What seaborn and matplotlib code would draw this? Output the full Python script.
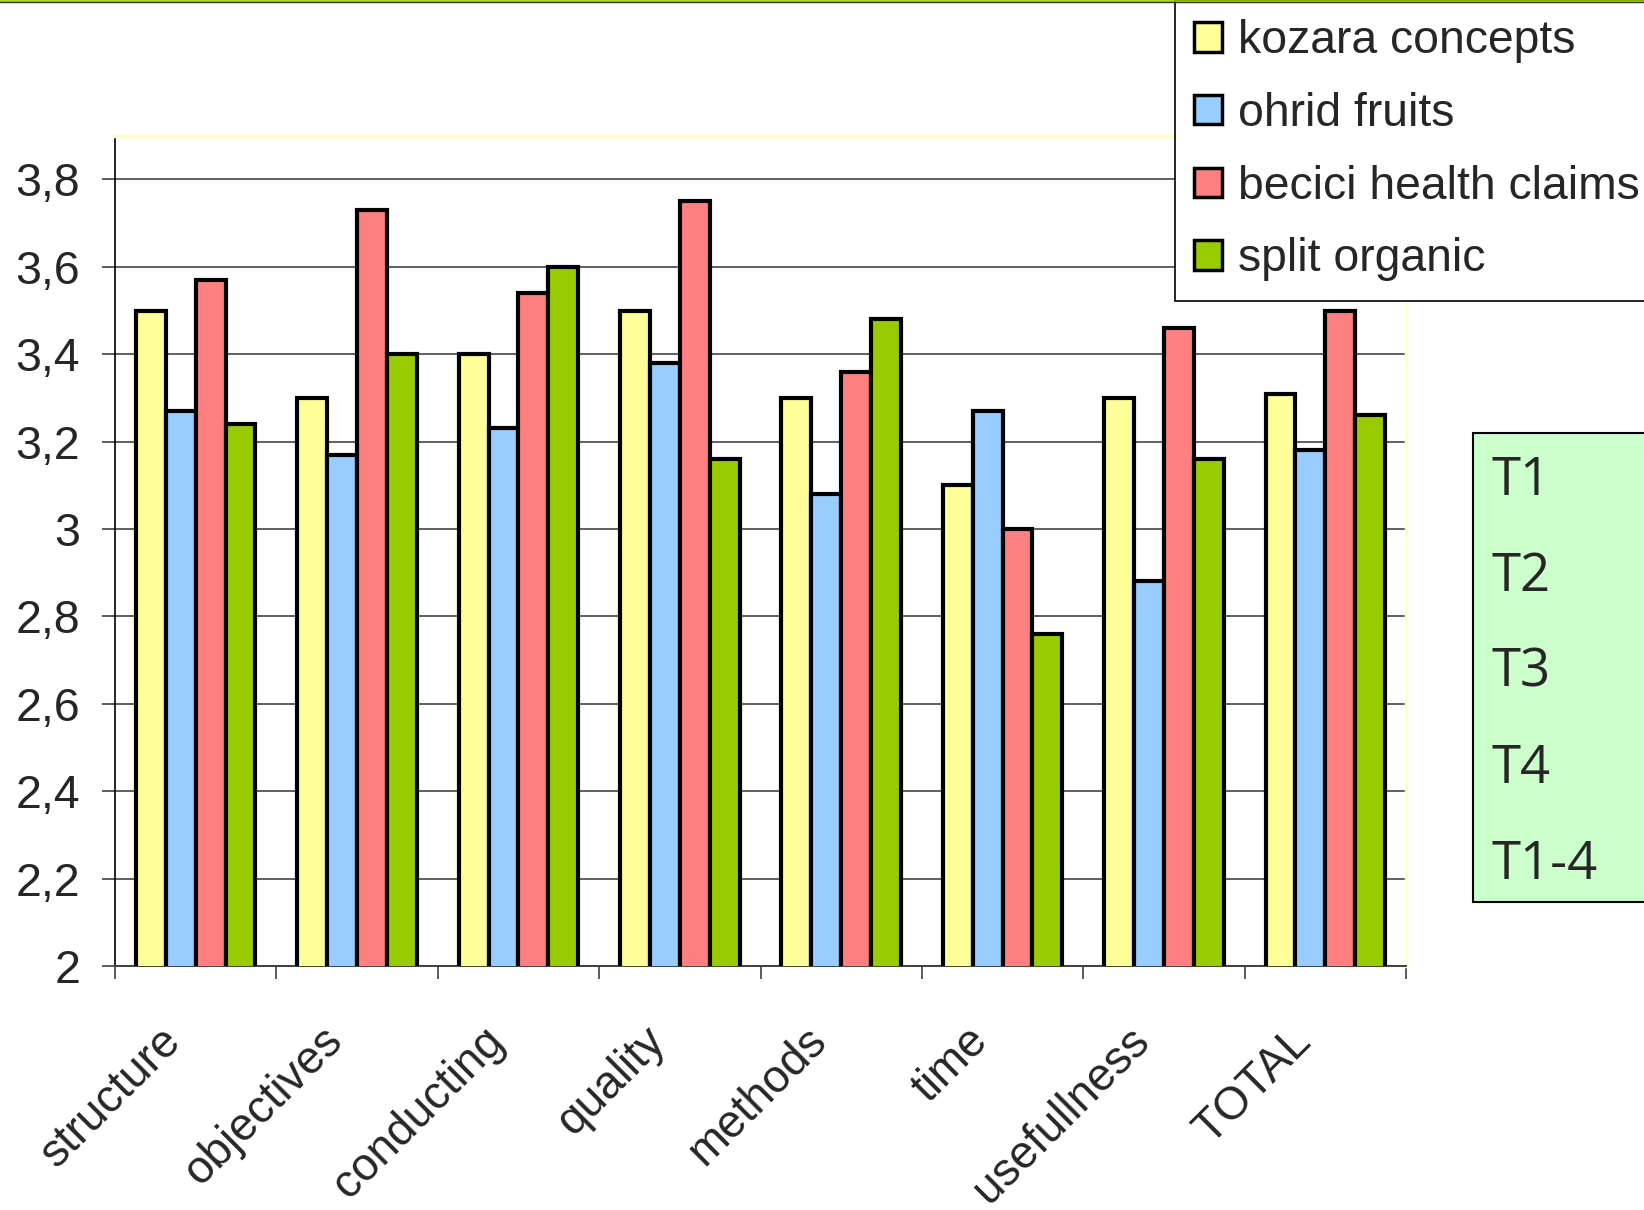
import numpy as np
import pandas as pd
import matplotlib
matplotlib.use("Agg")
import matplotlib.pyplot as plt
import seaborn as sns
from matplotlib.patches import Rectangle
from matplotlib.lines import Line2D
from matplotlib.ticker import FixedLocator, FuncFormatter
from matplotlib.transforms import ScaledTranslation

categories = ["structure", "objectives", "conducting", "quality", "methods", "time", "usefullness", "TOTAL"]
series = ["kozara concepts", "ohrid fruits", "becici health claims", "split organic"]
kozara = [3.50, 3.30, 3.40, 3.50, 3.30, 3.10, 3.30, 3.31]
ohrid = [3.27, 3.17, 3.23, 3.38, 3.08, 3.27, 2.88, 3.18]
becici = [3.57, 3.73, 3.54, 3.75, 3.36, 3.00, 3.46, 3.50]
split = [3.24, 3.40, 3.60, 3.16, 3.48, 2.76, 3.16, 3.26]
colors = ["#FFFF99", "#99CCFF", "#FF8080", "#99CC00"]
side_labels = ["T1", "T2", "T3", "T4", "T1-4"]

rows = []
for name, vals in zip(series, [kozara, ohrid, becici, split]):
    for c, v in zip(categories, vals):
        rows.append({"category": c, "series": name, "value": v})
df = pd.DataFrame(rows)

sns.set_style("white")
plt.rcParams["font.family"] = ["Liberation Sans", "DejaVu Sans"]

W, H = 1644, 1210
fig = plt.figure(figsize=(W / 100, H / 100), dpi=100)
ax = fig.add_axes([115 / W, 1 - 966 / H, (1406 - 115) / W, (966 - 135.7) / H])

sns.barplot(data=df, x="category", y="value", hue="series", palette=colors,
            saturation=1, width=0.74, edgecolor="black", linewidth=3,
            errorbar=None, ax=ax, zorder=3)

ax.set_ylim(2, 3.9)
ax.set_xlim(-0.5, len(categories) - 0.5)
ax.yaxis.set_major_locator(FixedLocator(np.arange(2, 3.81, 0.2)))
ax.yaxis.set_major_formatter(FuncFormatter(lambda v, p: ("%g" % round(v, 1)).replace(".", ",")))
ax.grid(axis="y", color="#606060", linewidth=1.4, zorder=0)
ax.set_axisbelow(True)
ax.set_xlabel("")
ax.set_ylabel("")

for s in ["top", "right"]:
    ax.spines[s].set_color("#FFFFCC")
    ax.spines[s].set_linewidth(2.5)
ax.spines["left"].set_color("black")
ax.spines["left"].set_linewidth(1.2)
ax.spines["bottom"].set_color("#404040")
ax.spines["bottom"].set_linewidth(1.4)

ax.tick_params(axis="y", direction="out", length=9.5, width=1.2, color="#404040",
               labelsize=33.5, pad=15.5, left=True)
ax.set_xticks(np.arange(-0.5, len(categories), 1.0), minor=True)
ax.tick_params(axis="x", which="minor", direction="out", length=9, width=1.2,
               color="#404040", bottom=True)
ax.tick_params(axis="x", which="major", length=0, labelsize=33, pad=8)
shift = ScaledTranslation(-37 / 100, -42 / 100, fig.dpi_scale_trans)
for lab in ax.get_xticklabels():
    lab.set_rotation(45)
    lab.set_ha("right")
    lab.set_va("top")
    lab.set_rotation_mode("anchor")
    lab.set_transform(lab.get_transform() + shift)

ax.legend(loc="upper left", bbox_to_anchor=(1175 / W, 1.0), bbox_transform=fig.transFigure,
          fontsize=33.3, frameon=True, fancybox=False, edgecolor="black", framealpha=1,
          borderaxespad=0, borderpad=0.42, handlelength=0.6, handleheight=0.6,
          handletextpad=0.35, labelspacing=0.62, title=None)
ax.get_legend().get_frame().set_linewidth(1.2)
for p in ax.get_legend().get_patches():
    p.set_linewidth(2.5)

# side box
fig.add_artist(Rectangle((1473 / W, 1 - 902 / H), 200 / W, (902 - 433) / H,
                         transform=fig.transFigure, facecolor="#CCFFCC",
                         edgecolor="black", linewidth=1.5))
for i, lab in enumerate(side_labels):
    fig.text(1491 / W, 1 - (481 + i * 96) / H, lab, fontsize=38, family="Open Sans",
             va="center", ha="left")

# slide border on top
fig.add_artist(Line2D([0, 1], [1 - 0.7 / H, 1 - 0.7 / H], transform=fig.transFigure,
                      color="#99CC00", linewidth=1.2))
fig.add_artist(Line2D([0, 1], [1 - 2.2 / H, 1 - 2.2 / H], transform=fig.transFigure,
                      color="#333333", linewidth=1.0))

fig.savefig("out.png", dpi=100)
